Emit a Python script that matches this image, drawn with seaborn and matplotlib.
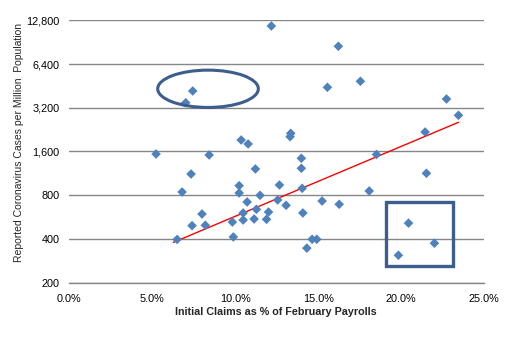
import matplotlib
matplotlib.use("Agg")
import matplotlib.pyplot as plt
from matplotlib.patches import Ellipse, Rectangle
from matplotlib.ticker import FixedLocator, FuncFormatter, NullLocator
import seaborn as sns
import pandas as pd

# Initial claims as % of February payrolls
claims_pct = [5.23, 7.02, 7.44, 8.43, 10.36, 10.78, 11.22, 12.18, 16.22, 15.56,
              17.55, 22.74, 23.46, 21.45, 13.35, 13.31, 13.99, 13.99, 18.52, 21.53,
              7.34, 6.80, 10.24, 10.24, 11.50, 10.72, 8.00, 7.40, 8.20, 6.50,
              9.83, 9.89, 10.48, 10.48, 11.14, 11.28, 12.01, 11.89, 12.67, 14.04,
              12.56, 13.07, 15.24, 16.27, 18.08, 14.08, 14.64, 14.92, 14.32, 20.45,
              22.01, 19.84]
# Reported coronavirus cases per million population
cases_per_million = [1538, 3468, 4176, 1514, 1920, 1803, 1213, 11700, 8480, 4426,
                     4870, 3678, 2840, 2180, 2135, 2024, 1437, 1226, 1526, 1133,
                     1120, 842, 931, 829, 799, 719, 594, 494, 497, 397,
                     523, 413, 604, 540, 549, 640, 613, 546, 941, 893,
                     742, 682, 730, 693, 856, 604, 398, 398, 346, 514,
                     374, 309]
# Trend line end points
trend_pct = [6.27, 23.46]
trend_cases = [379, 2542]

y_ticks = [200, 400, 800, 1600, 3200, 6400, 12800]
x_ticks = [0.0, 0.05, 0.10, 0.15, 0.20, 0.25]

df = pd.DataFrame({"x": [v / 100 for v in claims_pct], "y": cases_per_million})
trend = pd.DataFrame({"x": [v / 100 for v in trend_pct], "y": trend_cases})

sns.set_theme(style="white")
plt.rcParams["font.family"] = ["Liberation Sans", "DejaVu Sans"]

W, H = 527, 340
fig = plt.figure(figsize=(W / 100, H / 100), dpi=100)
ax_l, ax_r, ax_t, ax_b = 69.3, 484.0, 20.3, 282.7
ax = fig.add_axes([ax_l / W, 1 - ax_b / H, (ax_r - ax_l) / W, (ax_b - ax_t) / H])

ax.set_yscale("log", base=2)
ax.set_ylim(200, 12800)
ax.set_xlim(0, 0.25)

ax.yaxis.set_major_locator(FixedLocator(y_ticks))
ax.yaxis.set_minor_locator(NullLocator())
ax.yaxis.set_major_formatter(FuncFormatter(lambda v, p: f"{int(round(v)):,}"))
ax.xaxis.set_major_locator(FixedLocator(x_ticks))
ax.xaxis.set_major_formatter(FuncFormatter(lambda v, p: f"{v * 100:.1f}%"))

ax.grid(axis="y", color="#868686", linewidth=1.0)
ax.grid(axis="x", visible=False)
ax.set_axisbelow(True)

for s in ["top", "right", "left"]:
    ax.spines[s].set_visible(False)
ax.spines["bottom"].set_color("#868686")
ax.spines["bottom"].set_linewidth(1.0)

ax.tick_params(axis="y", length=0, pad=7, labelsize=7.8, colors="black")
ax.tick_params(axis="x", direction="in", length=3, width=1, color="#868686",
               pad=8, labelsize=7.8, labelcolor="black")

sns.lineplot(data=trend, x="x", y="y", ax=ax, color="#FF0000", linewidth=1.0, zorder=3)
sns.scatterplot(data=df, x="x", y="y", ax=ax, marker="D", s=24, color="#4F81BD",
                edgecolor="none", linewidth=0, zorder=4)

ax.set_xlabel("Initial Claims as % of February Payrolls", fontsize=8, fontweight="bold")
ax.set_ylabel("Reported Coronavirus Cases per Million  Population", fontsize=7.8)
ax.xaxis.set_label_coords(0.5, -0.11)
ax.yaxis.set_label_coords(-0.112, 0.530)

# fit label sizes/positions to the reference layout (pixel targets, top-left origin)
fig.canvas.draw()
r = fig.canvas.get_renderer()
axw, axh = ax_r - ax_l, ax_b - ax_t

yl = ax.yaxis.label
bb = yl.get_window_extent(r)
yl.set_fontsize(7.8 * 240.6 / bb.height)
fig.canvas.draw()
bb = yl.get_window_extent(r)
cx, cy = yl.get_position()
cy_target = H - (22.7 + 263.3) / 2
right_target = 24.0
ax.yaxis.set_label_coords(cx + (right_target - bb.x1) / axw,
                          cy + (cy_target - (bb.y0 + bb.y1) / 2) / axh)

xl = ax.xaxis.label
bb = xl.get_window_extent(r)
xl.set_fontsize(8 * 202.4 / bb.width)
fig.canvas.draw()
bb = xl.get_window_extent(r)
cx, cy = xl.get_position()
ax.xaxis.set_label_coords(cx + ((174.3 + 376.7) / 2 - (bb.x0 + bb.x1) / 2) / axw,
                          cy + ((H - 312.2) - (bb.y0 + bb.y1) / 2) / axh)

ell = Ellipse((0.3345, 0.739), 0.2426, 0.1421, transform=ax.transAxes, fill=False,
              edgecolor="#3B5E8C", linewidth=2.2, zorder=5, clip_on=False)
ax.add_patch(ell)
rect = Rectangle((0.7637, 0.0648), 0.1608, 0.2416, transform=ax.transAxes, fill=False,
                 edgecolor="#3B5E8C", linewidth=2.4, zorder=5, clip_on=False)
ax.add_patch(rect)

fig.savefig("out.png", dpi=100)
